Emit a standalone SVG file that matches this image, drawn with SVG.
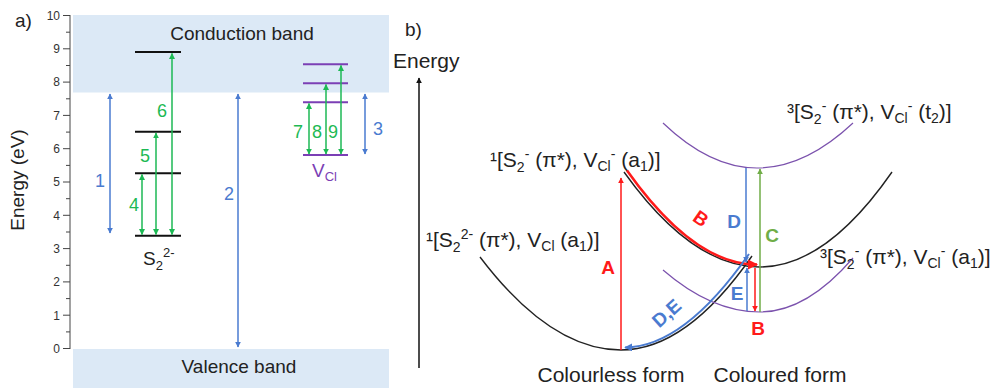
<svg xmlns="http://www.w3.org/2000/svg" width="997" height="388" viewBox="0 0 997 388">
<defs>
<style>
text{font-family:"Liberation Sans",Arial,sans-serif;}
.t{font-size:19px;fill:#222;}
.tb{font-size:21px;fill:#222;}
.tick{font-size:12px;fill:#333;text-anchor:end;}
.num{font-size:18px;text-anchor:middle;}
.lv{stroke:#111;stroke-width:2;}
.pl{stroke:#7b3fb5;stroke-width:2;}
.gr{stroke:#1db954;stroke-width:1.5;fill:none;}
.bl{stroke:#4a7bd0;stroke-width:1.5;fill:none;}
.rd{stroke:#ff1a1a;stroke-width:1.5;fill:none;}
.gc{stroke:#70ad47;stroke-width:1.5;fill:none;}
.cv{fill:none;stroke:#222;stroke-width:1.4;}
.cp{fill:none;stroke:#7b52ad;stroke-width:1.2;}
.lab{font-size:19px;font-weight:bold;text-anchor:middle;}
</style>
<marker id="ag" viewBox="0 0 10 10" refX="9" refY="5" markerWidth="4" markerHeight="4" orient="auto-start-reverse"><path d="M0,0L10,5L0,10z" fill="#1db954"/></marker>
<marker id="ab" viewBox="0 0 10 10" refX="9" refY="5" markerWidth="4" markerHeight="4" orient="auto-start-reverse"><path d="M0,0L10,5L0,10z" fill="#4a7bd0"/></marker>
<marker id="ar" viewBox="0 0 10 10" refX="9" refY="5" markerWidth="4" markerHeight="4" orient="auto-start-reverse"><path d="M0,0L10,5L0,10z" fill="#ff1a1a"/></marker>
<marker id="ac" viewBox="0 0 10 10" refX="9" refY="5" markerWidth="4" markerHeight="4" orient="auto-start-reverse"><path d="M0,0L10,5L0,10z" fill="#70ad47"/></marker>
<marker id="ak" viewBox="0 0 10 10" refX="9" refY="5" markerWidth="4" markerHeight="4" orient="auto"><path d="M0,0L10,5L0,10z" fill="#111"/></marker>
</defs>
<rect width="997" height="388" fill="#fff"/>

<!-- Panel a -->
<g id="bands">
<rect x="73" y="15" width="316" height="77.5" fill="#dce9f6"/>
<rect x="73" y="349" width="316" height="39" fill="#dce9f6"/>
<text class="t" x="242" y="40" text-anchor="middle">Conduction band</text>
<text class="t" x="239" y="373" text-anchor="middle">Valence band</text>
</g>
<g id="axis-a" stroke="#444" stroke-width="1">
<line x1="70" y1="15" x2="70" y2="349"/>
<path d="M63,15.5H70M63,48.8H70M63,82.1H70M63,115.4H70M63,148.7H70M63,182H70M63,215.3H70M63,248.6H70M63,281.9H70M63,315.2H70M63,348.5H70"/>
<path d="M66,32.2H70M66,65.5H70M66,98.8H70M66,132.1H70M66,165.4H70M66,198.7H70M66,232H70M66,265.3H70M66,298.6H70M66,331.9H70"/>
</g>
<g id="ticklabels">
<text class="tick" x="60" y="20">10</text>
<text class="tick" x="60" y="53">9</text>
<text class="tick" x="60" y="86">8</text>
<text class="tick" x="60" y="120">7</text>
<text class="tick" x="60" y="153">6</text>
<text class="tick" x="60" y="186">5</text>
<text class="tick" x="60" y="220">4</text>
<text class="tick" x="60" y="253">3</text>
<text class="tick" x="60" y="286">2</text>
<text class="tick" x="60" y="320">1</text>
<text class="tick" x="60" y="353">0</text>
</g>
<text class="t" x="15" y="27" font-size="18">a)</text>
<text class="t" font-size="18" transform="translate(24,180) rotate(-90)" text-anchor="middle">Energy (eV)</text>

<g id="s2-levels">
<line class="lv" x1="135" y1="52" x2="181" y2="52"/>
<line class="lv" x1="135" y1="131.7" x2="181" y2="131.7"/>
<line class="lv" x1="135" y1="173.3" x2="181" y2="173.3"/>
<line class="lv" x1="135" y1="235.7" x2="181" y2="235.7"/>
<text class="t" x="143" y="265">S<tspan font-size="13" dy="5">2</tspan><tspan font-size="13" dy="-13">2-</tspan></text>
</g>
<g id="vcl-levels">
<line class="pl" x1="303" y1="64.3" x2="348" y2="64.3"/>
<line class="pl" x1="303" y1="83.3" x2="348" y2="83.3"/>
<line class="pl" x1="303" y1="102.3" x2="348" y2="102.3"/>
<line class="pl" x1="303" y1="155" x2="348" y2="155"/>
<text x="312" y="177" font-size="19" fill="#7b3fb5">V<tspan font-size="13" dy="4">Cl</tspan></text>
</g>
<g id="connectors-a">
<line class="gr" x1="142" y1="234.5" x2="142" y2="174.5" marker-start="url(#ag)" marker-end="url(#ag)"/>
<line class="gr" x1="156" y1="234.5" x2="156" y2="133" marker-start="url(#ag)" marker-end="url(#ag)"/>
<line class="gr" x1="172" y1="234.5" x2="172" y2="53.5" marker-start="url(#ag)" marker-end="url(#ag)"/>
<line class="gr" x1="309" y1="154" x2="309" y2="103.5" marker-start="url(#ag)" marker-end="url(#ag)"/>
<line class="gr" x1="326" y1="154" x2="326" y2="84.5" marker-start="url(#ag)" marker-end="url(#ag)"/>
<line class="gr" x1="341" y1="154" x2="341" y2="65.5" marker-start="url(#ag)" marker-end="url(#ag)"/>
<line class="bl" x1="110" y1="94" x2="110" y2="233" marker-start="url(#ab)" marker-end="url(#ab)"/>
<line class="bl" x1="238" y1="94" x2="238" y2="347" marker-start="url(#ab)" marker-end="url(#ab)"/>
<line class="bl" x1="365" y1="94" x2="365" y2="154" marker-start="url(#ab)" marker-end="url(#ab)"/>
</g>
<g id="labels-a">
<text class="num" x="100" y="187" fill="#4a7bd0">1</text>
<text class="num" x="229" y="200" fill="#4a7bd0">2</text>
<text class="num" x="378" y="135" fill="#4a7bd0">3</text>
<text class="num" x="134" y="211" fill="#1db954">4</text>
<text class="num" x="145" y="162" fill="#1db954">5</text>
<text class="num" x="162" y="117" fill="#1db954">6</text>
<text class="num" x="298" y="138" fill="#1db954">7</text>
<text class="num" x="317" y="138" fill="#1db954">8</text>
<text class="num" x="333" y="138" fill="#1db954">9</text>
</g>

<!-- Panel b -->
<text class="t" x="405" y="36">b)</text>
<text class="tb" font-size="20" x="393" y="68">Energy</text>
<line x1="419" y1="368" x2="419" y2="78" stroke="#111" stroke-width="1.5" marker-end="url(#ak)"/>

<g id="ground-state">
<path class="cv" d="M480,257Q550.5,350 621,350Q686.5,350 752,256"/>
<text class="tb" x="426" y="247">¹[S<tspan font-size="14" dy="5">2</tspan><tspan font-size="14" dy="-13">2-</tspan><tspan dy="8"> (π*), V</tspan><tspan font-size="14" dy="4">Cl</tspan><tspan dy="-4"> (a</tspan><tspan font-size="14" dy="4">1</tspan><tspan dy="-4">)]</tspan></text>
</g>
<g id="singlet-excited">
<path class="cv" d="M624,172Q692,267 760,267Q826,267 892,172"/>
<text class="tb" x="490" y="167">¹[S<tspan font-size="14" dy="5">2</tspan><tspan font-size="14" dy="-13">-</tspan><tspan dy="8"> (π*), V</tspan><tspan font-size="14" dy="4">Cl</tspan><tspan font-size="14" dy="-12">-</tspan><tspan dy="8"> (a</tspan><tspan font-size="14" dy="4">1</tspan><tspan dy="-4">)]</tspan></text>
</g>
<g id="triplet-t2">
<path class="cp" d="M663,123Q710,168 757,168Q805,168 853,123"/>
<text class="tb" x="787" y="119" fill="#7b52ad">³[S<tspan font-size="14" dy="5">2</tspan><tspan font-size="14" dy="-13">-</tspan><tspan dy="8"> (π*), V</tspan><tspan font-size="14" dy="4">Cl</tspan><tspan font-size="14" dy="-12">-</tspan><tspan dy="8"> (t</tspan><tspan font-size="14" dy="4">2</tspan><tspan dy="-4">)]</tspan></text>
</g>
<g id="triplet-a1">
<path class="cp" d="M663,270Q711.5,312 760,312Q806.5,312 853,258"/>
<text class="tb" x="820" y="264" fill="#7b52ad">³[S<tspan font-size="14" dy="5">2</tspan><tspan font-size="14" dy="-13">-</tspan><tspan dy="8"> (π*), V</tspan><tspan font-size="14" dy="4">Cl</tspan><tspan font-size="14" dy="-12">-</tspan><tspan dy="8"> (a</tspan><tspan font-size="14" dy="4">1</tspan><tspan dy="-4">)]</tspan></text>
</g>
<text class="tb" x="611" y="382" text-anchor="middle">Colourless form</text>
<text class="tb" x="780" y="382" text-anchor="middle">Coloured form</text>

<g id="connectors-b">
<line class="rd" x1="621" y1="350" x2="621" y2="178" marker-end="url(#ar)"/>
<path d="M627,170.5Q694,265 757,264.5" fill="none" stroke="#ff1a1a" stroke-width="2.5" marker-end="url(#ar)"/>
<path d="M749,254Q684,347 625,347.5" fill="none" stroke="#4a7bd0" stroke-width="2" marker-end="url(#ab)"/>
<line class="bl" x1="746" y1="168" x2="746" y2="262" marker-end="url(#ab)"/>
<line class="gc" x1="760" y1="312" x2="760" y2="169" marker-end="url(#ac)"/>
<line class="bl" x1="747" y1="311" x2="747" y2="268" marker-end="url(#ab)"/>
<line class="rd" x1="755" y1="268" x2="755" y2="311" marker-end="url(#ar)"/>
</g>
<g id="labels-b">
<text class="lab" x="608" y="274" fill="#ff1a1a">A</text>
<text class="lab" fill="#ff1a1a" transform="translate(697,224) rotate(35)">B</text>
<text class="lab" x="734" y="228" fill="#4a7bd0">D</text>
<text class="lab" x="772" y="242" fill="#70ad47">C</text>
<text class="lab" x="737" y="300" fill="#4a7bd0">E</text>
<text class="lab" x="758" y="335" fill="#ff1a1a">B</text>
<text class="lab" fill="#4a7bd0" transform="translate(671,318) rotate(-42)">D,E</text>
</g>
</svg>
